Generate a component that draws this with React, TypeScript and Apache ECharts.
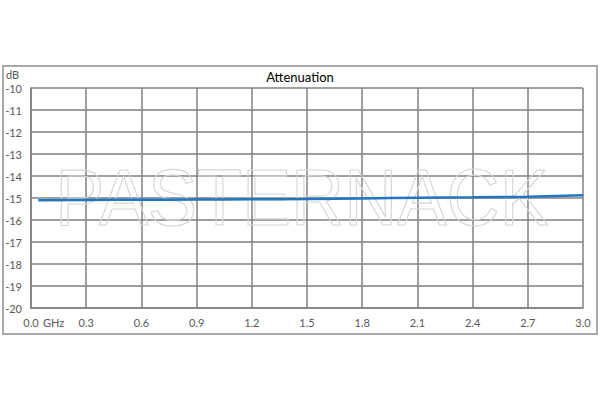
import React from 'react';
import * as echarts from 'echarts';

const freqGHz = [0.04, 0.3, 0.6, 0.9, 1.2, 1.5, 1.8, 2.1, 2.4, 2.7, 3.0];
const attenuationDb = [-15.1, -15.09, -15.08, -15.07, -15.06, -15.05, -15.02, -14.99, -14.97, -14.94, -14.88];
const xTicks = ['0.0', '0.3', '0.6', '0.9', '1.2', '1.5', '1.8', '2.1', '2.4', '2.7', '3.0'];

const FONT = 'Lato, "Liberation Sans", sans-serif';

export default function App() {
  const chartRef = React.useRef<HTMLDivElement>(null);

  React.useEffect(() => {
    if (!chartRef.current) return;
    document.body.style.margin = '0';
    const chart = echarts.init(chartRef.current, undefined, { renderer: 'svg' });

    const option: echarts.EChartsOption = {
      animation: false,
      backgroundColor: '#fff',
      title: {
        text: 'Attenuation',
        left: 'center',
        top: 65,
        textStyle: { fontFamily: FONT, fontSize: 13, fontWeight: 'normal', color: '#000' },
      },
      grid: { left: 31, right: 17, top: 88, bottom: 92 },
      xAxis: {
        type: 'value',
        min: 0,
        max: 3,
        interval: 0.3,
        axisLine: { show: true, lineStyle: { color: '#808080', width: 1.5 } },
        axisTick: { show: false },
        splitLine: { show: true, lineStyle: { color: '#808080', width: 1.5 } },
        axisLabel: {
          margin: 9,
          fontFamily: FONT,
          fontSize: 11,
          color: '#595959',
          formatter: (v: number) => xTicks[Math.round(v / 0.3)] ?? '',
        },
      },
      yAxis: {
        type: 'value',
        min: -20,
        max: -10,
        interval: 1,
        axisLine: { show: true, lineStyle: { color: '#808080', width: 1.5 } },
        axisTick: { show: false },
        splitLine: { show: true, lineStyle: { color: '#808080', width: 1.5 } },
        axisLabel: { margin: 9, fontFamily: FONT, fontSize: 11, color: '#595959' },
      },
      graphic: [
        {
          type: 'rect',
          shape: { x: 3, y: 66, width: 594, height: 268 },
          style: { fill: 'none', stroke: '#8c8c8c', lineWidth: 1.5 },
          z: -10,
        },
        {
          type: 'text',
          left: 6,
          top: 69,
          style: { text: 'dB', font: `11px ${FONT}`, fill: '#595959' },
        },
        {
          type: 'text',
          left: 43,
          top: 317,
          style: { text: 'GHz', font: `11px ${FONT}`, fill: '#595959' },
        },
        {
          type: 'text',
          x: 302,
          y: 197,
          scaleX: 0.92,
          style: {
            text: 'PASTERNACK',
            font: `80px "Liberation Sans", Arial, sans-serif`,
            fill: 'rgba(255,255,255,0)',
            stroke: '#d6d6d6',
            lineWidth: 1.2,
            align: 'center',
            verticalAlign: 'middle',
          },
          z: 5,
        },
      ],
      series: [
        {
          type: 'line',
          data: freqGHz.map((f, i) => [f, attenuationDb[i]]),
          symbol: 'none',
          smooth: true,
          lineStyle: { color: '#1f78c1', width: 2.5 },
          z: 10,
        },
      ],
    };

    chart.setOption(option);
    return () => chart.dispose();
  }, []);

  return <div ref={chartRef} style={{ width: 600, height: 400 }} />;
}
